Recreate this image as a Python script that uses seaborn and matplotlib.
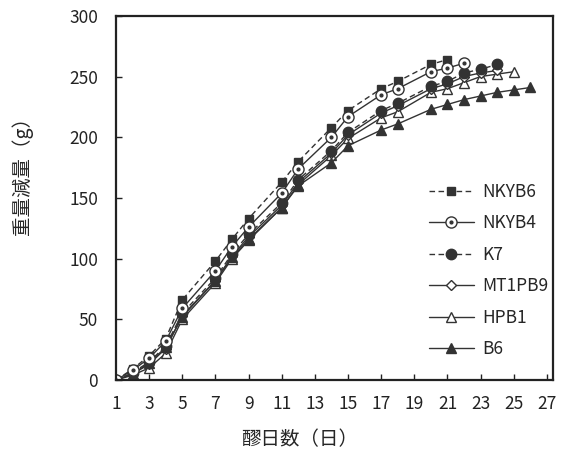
import pandas as pd
import seaborn as sns
import matplotlib.pyplot as plt
from matplotlib.lines import Line2D

# 醪日数
days = [1, 2, 3, 4, 5, 7, 8, 9, 11, 12, 14, 15, 17, 18, 20, 21, 22, 23, 24, 25, 26]

# 重量減量 (g)
nkyb6 = [0, 9, 20, 34, 66, 98, 116, 133, 163, 180, 208, 222, 240, 246, 260, 264]
nkyb4 = [0, 8, 18, 32, 59, 90, 110, 126, 154, 174, 200, 217, 235, 240, 254, 257, 261]
k7 = [0, 6, 15, 28, 55, 84, 104, 120, 146, 165, 189, 204, 222, 228, 242, 246, 253, 256, 260]
mt1pb9 = [0, 5, 13, 26, 53, 82, 102, 118, 144, 163, 187, 202, 220, 226, 240, 244, 250, 253, 255]
hpb1 = [0, 4, 10, 22, 50, 80, 100, 115, 142, 161, 185, 199, 216, 221, 237, 240, 245, 250, 252, 254]
b6 = [0, 5, 14, 27, 52, 82, 101, 116, 142, 160, 179, 193, 206, 211, 223, 227, 231, 234, 237, 239, 241]

names = ["NKYB6", "NKYB4", "K7", "MT1PB9", "HPB1", "B6"]
series = [nkyb6, nkyb4, k7, mt1pb9, hpb1, b6]

rows = []
for name, vals in zip(names, series):
    for d, v in zip(days, vals):
        rows.append({"day": d, "loss": v, "name": name})
df = pd.DataFrame(rows)

sns.set_style("ticks")
plt.rcParams['font.family'] = ['Noto Sans CJK JP', 'DejaVu Sans']

fig = plt.figure(figsize=(5.74, 4.53), dpi=100)
ax = fig.add_axes([0.202, 0.161, 0.761, 0.804])

# 線種・マーカー
styles = {
    "NKYB6": dict(ls=(0, (4, 2.5)), marker="s", mfc="#333333", ms=6),
    "NKYB4": dict(ls="-", marker="o", mfc="white", ms=8),
    "K7": dict(ls=(0, (4, 2.5)), marker="o", mfc="#333333", ms=7.5),
    "MT1PB9": dict(ls="-", marker="D", mfc="white", ms=5.5),
    "HPB1": dict(ls="-", marker="^", mfc="white", ms=7),
    "B6": dict(ls="-", marker="^", mfc="#333333", ms=7.5),
}
draw_order = ["HPB1", "MT1PB9", "B6", "K7", "NKYB6", "NKYB4"]

handles = {}
for name in draw_order:
    st = styles[name]
    sub = df[df["name"] == name]
    sns.lineplot(data=sub, x="day", y="loss", ax=ax, color="#333333", lw=1.0,
                 linestyle=st["ls"], marker=st["marker"], markerfacecolor=st["mfc"],
                 markeredgecolor="#333333", markersize=st["ms"], markeredgewidth=1.0)
    h = Line2D([], [], color="#333333", lw=1.0, linestyle=st["ls"], marker=st["marker"],
               markerfacecolor=st["mfc"], markeredgecolor="#333333",
               markersize=st["ms"], markeredgewidth=1.0)
    if name == "NKYB4":
        # 中心の点
        ax.plot(sub["day"], sub["loss"], ls="none", marker="o", ms=2, color="#333333")
        dot = Line2D([], [], ls="none", marker="o", ms=2, color="#333333")
        h = (h, dot)
    handles[name] = h

ax.set_xlim(1, 27.35)
ax.set_ylim(0, 300)
ax.set_xticks(range(1, 28, 2))
ax.set_yticks(range(0, 301, 50))
ax.tick_params(direction="in", labelsize=12.5, length=4, width=1, colors="#222222")
ax.tick_params(axis="x", pad=11)
ax.tick_params(axis="y", pad=13)
for s in ax.spines.values():
    s.set_linewidth(1.6)
    s.set_color("#222222")

ax.set_xlabel("醪日数（日）", fontsize=14)
ax.set_ylabel("重量減量（g）", fontsize=14)
ax.xaxis.set_label_coords(0.42, -0.135)
ax.yaxis.set_label_coords(-0.19, 0.575)

ax.legend([handles[n] for n in names], names, loc="upper left", bbox_to_anchor=(0.68, 0.585),
          frameon=False, fontsize=12.5, handlelength=2.6, labelspacing=0.78, handletextpad=0.5)

plt.savefig("out.png", dpi=100)
